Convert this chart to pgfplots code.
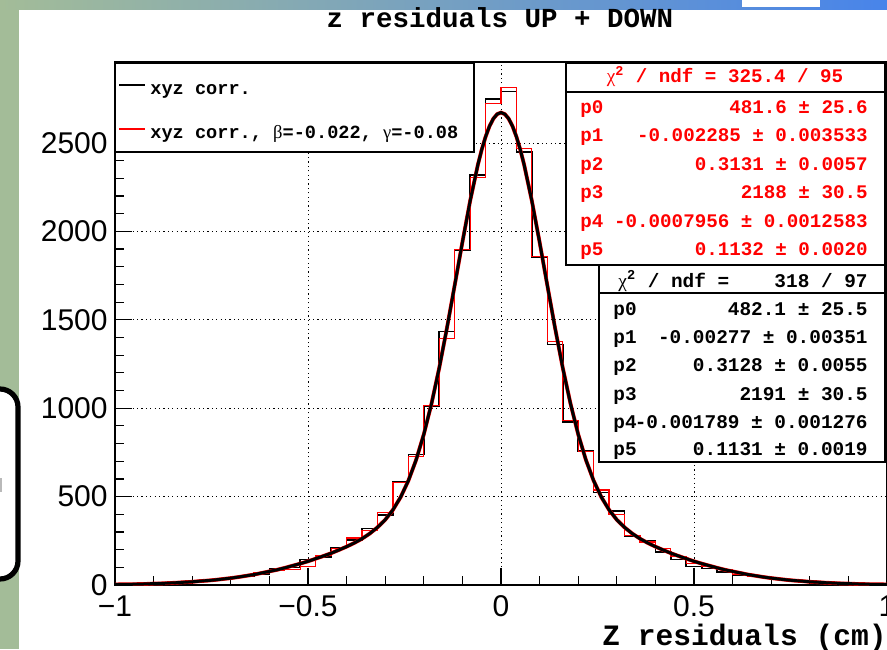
\documentclass[border=0pt]{standalone}
\usepackage{pgfplots}
\pgfplotsset{compat=1.18}
\usepackage{pgfplotstable}
\usepackage{fontspec}
\setmainfont{Liberation Sans}
\newfontfamily\mono{Liberation Mono}
\newfontfamily\grk{Liberation Serif}

\definecolor{slidegreen}{RGB}{163,188,152}
\definecolor{slideblue}{RGB}{72,132,234}
\definecolor{rootred}{RGB}{255,0,0}

% z residuals, xyz corrected (left bin edge, entries)
\pgfplotstableread{
x y
-1.00 4
-0.96 6
-0.92 9
-0.88 10
-0.84 17
-0.80 20
-0.76 31
-0.72 38
-0.68 50
-0.64 62
-0.60 90
-0.56 100
-0.52 145
-0.48 160
-0.44 210
-0.40 256
-0.36 320
-0.32 395
-0.28 586
-0.24 738
-0.20 1014
-0.16 1433
-0.12 1896
-0.08 2319
-0.04 2750
0.00 2790
0.04 2450
0.08 1856
0.12 1361
0.16 923
0.20 757
0.24 523
0.28 420
0.32 275
0.36 252
0.40 187
0.44 144
0.48 105
0.52 94
0.56 75
0.60 56
0.64 47
0.68 37
0.72 28
0.76 22
0.80 17
0.84 12
0.88 8
0.92 6
0.96 4
1.00 4
}\histblack

% z residuals, xyz corrected with beta=-0.022, gamma=-0.08
\pgfplotstableread{
x y
-1.00 4
-0.96 5
-0.92 8
-0.88 12
-0.84 15
-0.80 22
-0.76 29
-0.72 42
-0.68 55
-0.64 70
-0.60 80
-0.56 88
-0.52 103
-0.48 165
-0.44 205
-0.40 266
-0.36 309
-0.32 410
-0.28 580
-0.24 729
-0.20 1014
-0.16 1392
-0.12 1896
-0.08 2306
-0.04 2722
0.00 2815
0.04 2470
0.08 1856
0.12 1376
0.16 930
0.20 757
0.24 537
0.28 400
0.32 280
0.36 243
0.40 205
0.44 159
0.48 122
0.52 103
0.56 88
0.60 60
0.64 50
0.68 38
0.72 30
0.76 21
0.80 15
0.84 11
0.88 8
0.92 5
0.96 4
1.00 4
}\histred

% double-Gaussian fit, sampled
\pgfplotstableread{
x y
-1.00 3
-0.98 4
-0.96 4
-0.94 5
-0.92 6
-0.90 8
-0.88 9
-0.86 11
-0.84 13
-0.82 16
-0.80 18
-0.78 22
-0.76 25
-0.74 29
-0.72 34
-0.70 39
-0.68 45
-0.66 52
-0.64 59
-0.62 68
-0.60 77
-0.58 86
-0.56 97
-0.54 109
-0.52 121
-0.50 134
-0.48 149
-0.46 164
-0.44 180
-0.42 198
-0.40 217
-0.38 238
-0.36 262
-0.34 291
-0.32 326
-0.30 369
-0.28 425
-0.26 497
-0.24 590
-0.22 707
-0.20 852
-0.18 1026
-0.16 1228
-0.14 1454
-0.12 1695
-0.10 1939
-0.08 2172
-0.06 2376
-0.05 2462
-0.04 2535
-0.03 2594
-0.02 2637
-0.01 2663
0.00 2672
0.01 2663
0.02 2637
0.03 2594
0.04 2535
0.05 2462
0.06 2376
0.08 2172
0.10 1939
0.12 1695
0.14 1454
0.16 1228
0.18 1026
0.20 852
0.22 707
0.24 590
0.26 497
0.28 425
0.30 369
0.32 326
0.34 291
0.36 262
0.38 238
0.40 217
0.42 198
0.44 180
0.46 164
0.48 149
0.50 134
0.52 121
0.54 109
0.56 97
0.58 86
0.60 77
0.62 68
0.64 59
0.66 52
0.68 45
0.70 39
0.72 34
0.74 29
0.76 25
0.78 22
0.80 18
0.82 16
0.84 13
0.86 11
0.88 9
0.90 8
0.92 6
0.94 5
0.96 4
0.98 4
1.00 3
}\fitcurve

\begin{document}
\begin{tikzpicture}
\useasboundingbox (0,0) rectangle (443.5pt,324.5pt);
\clip (0,0) rectangle (443.5pt,324.5pt);
\fill[white] (0,0) rectangle (443.5pt,324.5pt);

% slide frame around the canvas
\begin{scope}[x=0.5pt,y=-0.5pt,yshift=324.5pt]
  \fill[slidegreen] (0,0) rectangle (19,649);
  \shade[left color=slidegreen, right color=slideblue] (0,0) rectangle (887,10);
  \fill[white] (742,0) rectangle (820,7);
  \draw[line width=2.6pt, fill=white, rounded corners=9pt] (-40,389) rectangle (18,579);
  \fill[gray!55] (0,478) rectangle (2,492);
\end{scope}

\begin{axis}[
  at={(57.5pt,32pt)}, anchor=south west,
  scale only axis, width=386pt, height=261.5pt,
  xmin=-1, xmax=1, ymin=0, ymax=2958,
  xtick={-1,-0.5,0,0.5,1}, xticklabels={−1,−0.5,0,0.5,1},
  ytick={0,500,1000,1500,2000,2500},
  yticklabels={0,500,1000,1500,2000,2500},
  minor x tick num=4, minor y tick num=4,
  tick align=inside, tick pos=left,
  major tick length=8.5pt, minor tick length=4.5pt,
  grid=major,
  major grid style={black, line width=0.45pt, dash pattern=on 0.6pt off 1.6pt},
  axis line style={line width=0.6pt},
  every tick/.style={black, line width=0.6pt},
  tick label style={font=\fontsize{15}{15}\selectfont, inner sep=0pt},
  xticklabel style={anchor=north, yshift=-5pt},
  yticklabel style={anchor=east, xshift=-3.5pt},
]
  \addplot[const plot, no marks, black, line width=0.8pt] table {\histblack};
  \addplot[const plot, no marks, rootred, line width=0.6pt] table {\histred};
  \addplot[no marks, rootred, line width=1.9pt] table {\fitcurve};
  \addplot[no marks, black, line width=1.5pt] table {\fitcurve};
\end{axis}

\begin{scope}[x=0.5pt,y=-0.5pt,yshift=324.5pt]
  % title and axis title
  \node[anchor=base, inner sep=0pt, font=\mono\bfseries\fontsize{13.75}{14}\selectfont]
    at (500,28) {z residuals UP + DOWN};
  \node[anchor=base east, inner sep=0pt, font=\mono\bfseries\fontsize{14.8}{15}\selectfont]
    at (887,645) {Z residuals (cm)};

  % legend
  \draw[fill=white, line width=0.6pt] (115,63) rectangle (474,152);
  \draw[black, line width=0.7pt] (119,85) -- (145,85);
  \node[anchor=base west, inner sep=0pt, font=\mono\bfseries\fontsize{9.3}{10}\selectfont]
    at (150,95) {xyz corr.};
  \draw[rootred, line width=0.7pt] (119,129) -- (145,129);
  \node[anchor=base west, inner sep=0pt, font=\mono\bfseries\fontsize{9.3}{10}\selectfont]
    at (150,139) {xyz corr., {\grk\mdseries β}=-0.022, {\grk\mdseries γ}=-0.08};

  % fit results, corrected with beta/gamma
  \begin{scope}[every node/.style={inner sep=0pt, text=rootred,
      font=\mono\bfseries\fontsize{9.6}{10}\selectfont}]
    \draw[fill=white, line width=0.6pt] (566,63) rectangle (885,265);
    \draw[line width=0.6pt] (566,92) -- (885,92);
    \node[anchor=base] at (725,83) {{\grk\mdseries χ}\textsuperscript{2} / ndf = 325.4 / 95};
    \node[anchor=base west] at (580,113.5) {p0};
    \node[anchor=base east] at (868,113.5) {481.6 ± 25.6};
    \node[anchor=base west] at (580,142) {p1};
    \node[anchor=base east] at (868,142) {-0.002285 ± 0.003533};
    \node[anchor=base west] at (580,170.5) {p2};
    \node[anchor=base east] at (868,170.5) {0.3131 ± 0.0057};
    \node[anchor=base west] at (580,198.5) {p3};
    \node[anchor=base east] at (868,198.5) {2188 ± 30.5};
    \node[anchor=base west] at (580,227) {p4};
    \node[anchor=base east] at (868,227) {-0.0007956 ± 0.0012583};
    \node[anchor=base west] at (580,255.5) {p5};
    \node[anchor=base east] at (868,255.5) {0.1132 ± 0.0020};
  \end{scope}

  % fit results, xyz corrected
  \begin{scope}[every node/.style={inner sep=0pt, text=black,
      font=\mono\bfseries\fontsize{9.7}{10}\selectfont}]
    \draw[fill=white, line width=0.6pt] (599,265) rectangle (885,462);
    \draw[line width=0.6pt] (599,293) -- (885,293);
    \node[anchor=base west] at (618,287) {{\grk\mdseries χ}\textsuperscript{2} / ndf =};
    \node[anchor=base east] at (868,287) {318 / 97};
    \node[anchor=base west] at (613,315.5) {p0};
    \node[anchor=base east] at (868,315.5) {482.1 ± 25.5};
    \node[anchor=base west] at (613,343.5) {p1};
    \node[anchor=base east] at (868,343.5) {-0.00277 ± 0.00351};
    \node[anchor=base west] at (613,371.5) {p2};
    \node[anchor=base east] at (868,371.5) {0.3128 ± 0.0055};
    \node[anchor=base west] at (613,400) {p3};
    \node[anchor=base east] at (868,400) {2191 ± 30.5};
    \node[anchor=base west] at (613,428) {p4};
    \node[anchor=base east] at (868,428) {-0.001789 ± 0.001276};
    \node[anchor=base west] at (613,455.5) {p5};
    \node[anchor=base east] at (868,455.5) {0.1131 ± 0.0019};
  \end{scope}
\end{scope}
\end{tikzpicture}
\end{document}
